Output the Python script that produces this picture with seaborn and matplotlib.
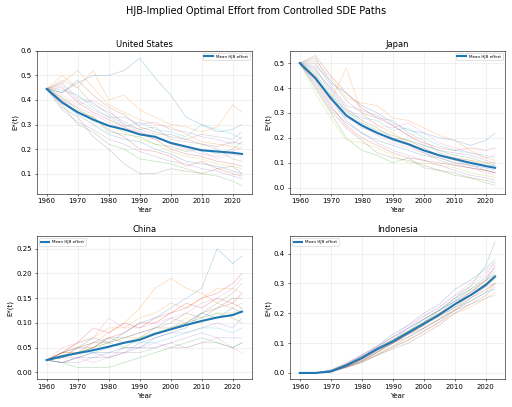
import numpy as np
import pandas as pd
import matplotlib
matplotlib.use("Agg")
import matplotlib.pyplot as plt
import seaborn as sns

# path values read at 5-year steps (plus final year)
years = [1960, 1965, 1970, 1975, 1980, 1985, 1990, 1995, 2000, 2005, 2010, 2015, 2020, 2023]

us_paths = [
    [0.445, 0.43, 0.47, 0.50, 0.50, 0.52, 0.57, 0.49, 0.42, 0.33, 0.30, 0.27, 0.28, 0.30],
    [0.445, 0.50, 0.45, 0.52, 0.40, 0.42, 0.36, 0.33, 0.30, 0.29, 0.27, 0.29, 0.38, 0.35],
    [0.445, 0.38, 0.30, 0.27, 0.22, 0.20, 0.16, 0.15, 0.14, 0.12, 0.10, 0.09, 0.07, 0.05],
    [0.445, 0.40, 0.35, 0.33, 0.28, 0.25, 0.20, 0.19, 0.17, 0.13, 0.15, 0.12, 0.10, 0.09],
    [0.445, 0.46, 0.40, 0.36, 0.33, 0.33, 0.30, 0.31, 0.28, 0.27, 0.25, 0.24, 0.22, 0.25],
    [0.445, 0.37, 0.33, 0.25, 0.20, 0.14, 0.10, 0.10, 0.12, 0.11, 0.10, 0.12, 0.13, 0.10],
    [0.445, 0.42, 0.38, 0.40, 0.36, 0.30, 0.27, 0.25, 0.22, 0.20, 0.18, 0.17, 0.19, 0.21],
    [0.445, 0.48, 0.45, 0.38, 0.35, 0.31, 0.28, 0.29, 0.24, 0.23, 0.22, 0.20, 0.16, 0.15],
    [0.445, 0.41, 0.37, 0.31, 0.30, 0.27, 0.24, 0.22, 0.19, 0.17, 0.16, 0.14, 0.13, 0.12],
    [0.445, 0.44, 0.42, 0.37, 0.33, 0.29, 0.31, 0.28, 0.27, 0.25, 0.30, 0.28, 0.26, 0.24],
    [0.445, 0.39, 0.34, 0.30, 0.26, 0.24, 0.23, 0.20, 0.18, 0.15, 0.14, 0.13, 0.11, 0.10],
    [0.445, 0.47, 0.52, 0.45, 0.38, 0.35, 0.32, 0.30, 0.29, 0.26, 0.23, 0.22, 0.21, 0.20],
    [0.445, 0.41, 0.36, 0.33, 0.27, 0.26, 0.25, 0.22, 0.21, 0.19, 0.20, 0.18, 0.20, 0.23],
    [0.445, 0.45, 0.39, 0.35, 0.32, 0.29, 0.26, 0.24, 0.20, 0.18, 0.17, 0.15, 0.14, 0.13],
    [0.445, 0.36, 0.31, 0.28, 0.24, 0.22, 0.19, 0.17, 0.15, 0.14, 0.12, 0.11, 0.09, 0.08],
    [0.445, 0.43, 0.48, 0.42, 0.37, 0.34, 0.29, 0.27, 0.25, 0.24, 0.22, 0.21, 0.23, 0.22],
    [0.445, 0.40, 0.37, 0.34, 0.31, 0.28, 0.27, 0.24, 0.23, 0.21, 0.19, 0.16, 0.18, 0.17],
    [0.445, 0.47, 0.41, 0.39, 0.34, 0.30, 0.28, 0.26, 0.26, 0.24, 0.26, 0.25, 0.24, 0.27],
]
us_mean = [0.445, 0.39, 0.35, 0.32, 0.295, 0.28, 0.26, 0.25, 0.225, 0.21, 0.195, 0.19, 0.185, 0.18]

jp_paths = [
    [0.50, 0.52, 0.42, 0.38, 0.33, 0.30, 0.26, 0.23, 0.22, 0.20, 0.19, 0.17, 0.19, 0.22],
    [0.50, 0.45, 0.35, 0.48, 0.30, 0.25, 0.22, 0.18, 0.15, 0.13, 0.12, 0.11, 0.10, 0.10],
    [0.50, 0.40, 0.30, 0.20, 0.15, 0.13, 0.10, 0.12, 0.08, 0.07, 0.05, 0.04, 0.02, 0.01],
    [0.50, 0.53, 0.45, 0.38, 0.32, 0.28, 0.25, 0.21, 0.18, 0.16, 0.15, 0.16, 0.15, 0.16],
    [0.50, 0.42, 0.32, 0.26, 0.22, 0.18, 0.15, 0.13, 0.11, 0.09, 0.07, 0.05, 0.04, 0.03],
    [0.50, 0.47, 0.40, 0.32, 0.27, 0.24, 0.20, 0.19, 0.16, 0.13, 0.11, 0.09, 0.07, 0.06],
    [0.50, 0.44, 0.34, 0.28, 0.25, 0.21, 0.18, 0.16, 0.14, 0.12, 0.10, 0.08, 0.06, 0.05],
    [0.50, 0.49, 0.43, 0.35, 0.30, 0.28, 0.27, 0.22, 0.19, 0.14, 0.12, 0.11, 0.09, 0.09],
    [0.50, 0.38, 0.28, 0.19, 0.18, 0.16, 0.13, 0.10, 0.10, 0.09, 0.08, 0.06, 0.05, 0.04],
    [0.50, 0.48, 0.38, 0.30, 0.28, 0.27, 0.23, 0.24, 0.20, 0.17, 0.15, 0.14, 0.13, 0.12],
    [0.50, 0.45, 0.36, 0.27, 0.22, 0.19, 0.17, 0.15, 0.13, 0.12, 0.10, 0.09, 0.08, 0.07],
    [0.50, 0.51, 0.44, 0.36, 0.34, 0.33, 0.28, 0.27, 0.24, 0.21, 0.19, 0.15, 0.12, 0.11],
    [0.50, 0.46, 0.37, 0.31, 0.26, 0.23, 0.21, 0.19, 0.17, 0.15, 0.13, 0.12, 0.10, 0.09],
    [0.50, 0.43, 0.33, 0.25, 0.20, 0.17, 0.14, 0.12, 0.11, 0.10, 0.09, 0.08, 0.07, 0.06],
    [0.50, 0.50, 0.41, 0.33, 0.31, 0.29, 0.25, 0.21, 0.17, 0.15, 0.14, 0.13, 0.11, 0.10],
    [0.50, 0.41, 0.31, 0.24, 0.19, 0.14, 0.12, 0.11, 0.09, 0.07, 0.06, 0.04, 0.03, 0.02],
    [0.50, 0.48, 0.39, 0.31, 0.29, 0.25, 0.24, 0.26, 0.22, 0.18, 0.16, 0.14, 0.12, 0.13],
    [0.50, 0.44, 0.35, 0.29, 0.24, 0.22, 0.19, 0.17, 0.14, 0.11, 0.09, 0.08, 0.07, 0.06],
]
jp_mean = [0.50, 0.44, 0.36, 0.29, 0.25, 0.22, 0.195, 0.175, 0.15, 0.13, 0.115, 0.10, 0.087, 0.08]

cn_paths = [
    [0.025, 0.04, 0.05, 0.07, 0.06, 0.08, 0.10, 0.11, 0.13, 0.15, 0.17, 0.25, 0.22, 0.235],
    [0.025, 0.03, 0.05, 0.06, 0.08, 0.10, 0.13, 0.17, 0.19, 0.17, 0.16, 0.14, 0.13, 0.14],
    [0.025, 0.02, 0.01, 0.01, 0.01, 0.02, 0.03, 0.04, 0.05, 0.06, 0.07, 0.06, 0.05, 0.06],
    [0.025, 0.04, 0.06, 0.09, 0.08, 0.10, 0.09, 0.11, 0.12, 0.13, 0.15, 0.16, 0.18, 0.20],
    [0.025, 0.03, 0.03, 0.04, 0.03, 0.04, 0.06, 0.07, 0.08, 0.08, 0.09, 0.10, 0.09, 0.11],
    [0.025, 0.04, 0.04, 0.05, 0.07, 0.06, 0.07, 0.09, 0.10, 0.12, 0.11, 0.13, 0.15, 0.15],
    [0.025, 0.02, 0.03, 0.02, 0.03, 0.05, 0.05, 0.06, 0.05, 0.05, 0.06, 0.07, 0.05, 0.04],
    [0.025, 0.03, 0.05, 0.06, 0.07, 0.07, 0.08, 0.09, 0.11, 0.10, 0.12, 0.14, 0.16, 0.18],
    [0.025, 0.04, 0.04, 0.05, 0.06, 0.07, 0.07, 0.08, 0.09, 0.11, 0.10, 0.12, 0.12, 0.13],
    [0.025, 0.03, 0.04, 0.04, 0.05, 0.06, 0.06, 0.06, 0.07, 0.08, 0.09, 0.09, 0.08, 0.09],
    [0.025, 0.02, 0.03, 0.04, 0.04, 0.05, 0.05, 0.07, 0.08, 0.09, 0.12, 0.11, 0.13, 0.12],
    [0.025, 0.04, 0.06, 0.07, 0.09, 0.09, 0.11, 0.12, 0.14, 0.13, 0.15, 0.17, 0.17, 0.16],
    [0.025, 0.03, 0.04, 0.05, 0.06, 0.05, 0.07, 0.08, 0.09, 0.10, 0.11, 0.12, 0.11, 0.10],
    [0.025, 0.04, 0.05, 0.05, 0.07, 0.08, 0.10, 0.10, 0.12, 0.14, 0.13, 0.15, 0.14, 0.16],
    [0.025, 0.02, 0.02, 0.03, 0.04, 0.04, 0.05, 0.05, 0.06, 0.07, 0.08, 0.07, 0.07, 0.07],
    [0.025, 0.03, 0.04, 0.06, 0.06, 0.07, 0.08, 0.09, 0.09, 0.10, 0.12, 0.13, 0.14, 0.13],
    [0.025, 0.05, 0.06, 0.07, 0.11, 0.09, 0.09, 0.10, 0.11, 0.12, 0.14, 0.15, 0.17, 0.19],
    [0.025, 0.02, 0.03, 0.03, 0.03, 0.04, 0.04, 0.05, 0.06, 0.05, 0.06, 0.06, 0.05, 0.06],
]
cn_mean = [0.025, 0.033, 0.039, 0.045, 0.052, 0.060, 0.066, 0.078, 0.087, 0.096, 0.104, 0.111, 0.116, 0.123]

id_paths = [
    [0, 0, 0.010, 0.030, 0.060, 0.090, 0.13, 0.16, 0.20, 0.23, 0.28, 0.31, 0.35, 0.38],
    [0, 0, 0.005, 0.020, 0.040, 0.060, 0.09, 0.11, 0.14, 0.17, 0.20, 0.22, 0.25, 0.27],
    [0, 0, 0.008, 0.030, 0.055, 0.085, 0.11, 0.14, 0.17, 0.21, 0.25, 0.29, 0.36, 0.44],
    [0, 0, 0.003, 0.020, 0.040, 0.070, 0.10, 0.12, 0.15, 0.18, 0.21, 0.25, 0.28, 0.30],
    [0, 0, 0.006, 0.025, 0.050, 0.080, 0.11, 0.15, 0.18, 0.21, 0.24, 0.27, 0.31, 0.34],
    [0, 0, 0.004, 0.020, 0.035, 0.060, 0.08, 0.10, 0.13, 0.16, 0.20, 0.23, 0.26, 0.29],
    [0, 0, 0.010, 0.035, 0.060, 0.090, 0.12, 0.15, 0.19, 0.22, 0.26, 0.29, 0.33, 0.37],
    [0, 0, 0.005, 0.020, 0.045, 0.075, 0.10, 0.13, 0.16, 0.19, 0.22, 0.25, 0.29, 0.32],
    [0, 0, 0.007, 0.030, 0.050, 0.080, 0.11, 0.14, 0.17, 0.20, 0.23, 0.27, 0.30, 0.31],
    [0, 0, 0.004, 0.020, 0.040, 0.065, 0.09, 0.12, 0.15, 0.18, 0.22, 0.24, 0.27, 0.28],
    [0, 0, 0.006, 0.028, 0.055, 0.085, 0.12, 0.15, 0.18, 0.21, 0.25, 0.28, 0.32, 0.35],
    [0, 0, 0.005, 0.022, 0.045, 0.070, 0.10, 0.13, 0.16, 0.19, 0.22, 0.26, 0.30, 0.33],
    [0, 0, 0.006, 0.027, 0.050, 0.080, 0.11, 0.14, 0.18, 0.21, 0.24, 0.28, 0.31, 0.33],
    [0, 0, 0.004, 0.020, 0.040, 0.070, 0.10, 0.13, 0.16, 0.20, 0.23, 0.27, 0.31, 0.36],
    [0, 0, 0.008, 0.030, 0.055, 0.085, 0.11, 0.14, 0.17, 0.20, 0.24, 0.26, 0.29, 0.30],
    [0, 0, 0.003, 0.017, 0.035, 0.060, 0.085, 0.11, 0.14, 0.17, 0.21, 0.24, 0.27, 0.30],
    [0, 0, 0.007, 0.030, 0.060, 0.090, 0.12, 0.16, 0.19, 0.22, 0.26, 0.30, 0.34, 0.37],
    [0, 0, 0.005, 0.025, 0.045, 0.075, 0.10, 0.13, 0.15, 0.18, 0.21, 0.23, 0.25, 0.26],
]
id_mean = [0, 0, 0.005, 0.025, 0.050, 0.080, 0.105, 0.135, 0.165, 0.195, 0.23, 0.26, 0.295, 0.323]

countries = ["United States", "Japan", "China", "Indonesia"]
all_paths = [us_paths, jp_paths, cn_paths, id_paths]
all_means = [us_mean, jp_mean, cn_mean, id_mean]
legend_loc = ["upper right", "upper right", "upper left", "upper left"]
y_limits = [(0.019, 0.6), (-0.023, 0.549), (-0.013, 0.275), (-0.02, 0.458)]

fig, axs = plt.subplots(2, 2, figsize=(10.24, 8.14), dpi=50)
axs = axs.flatten()

for i, name in enumerate(countries):
    ax = axs[i]
    rows = []
    for k, p in enumerate(all_paths[i]):
        for y, v in zip(years, p):
            rows.append({"year": y, "effort": v, "path": k})
    df = pd.DataFrame(rows)
    sns.lineplot(data=df, x="year", y="effort", hue="path", palette="tab10",
                 legend=False, lw=1.0, alpha=0.3, ax=ax)
    sns.lineplot(x=years, y=all_means[i], color="C0", lw=3.0,
                 label="Mean HJB effort", ax=ax)
    ax.set_ylim(*y_limits[i])
    ax.set_title(name, fontsize=12)
    ax.set_xlabel("Year")
    ax.set_ylabel("E*(t)")
    ax.grid(True, alpha=0.3)
    ax.legend(loc=legend_loc[i], fontsize=6)

fig.suptitle("HJB-Implied Optimal Effort from Controlled SDE Paths", fontsize=14, y=0.985)
fig.subplots_adjust(left=0.072, right=0.986, top=0.875, bottom=0.069,
                    wspace=0.178, hspace=0.30)
fig.savefig("out.png", dpi=50)
